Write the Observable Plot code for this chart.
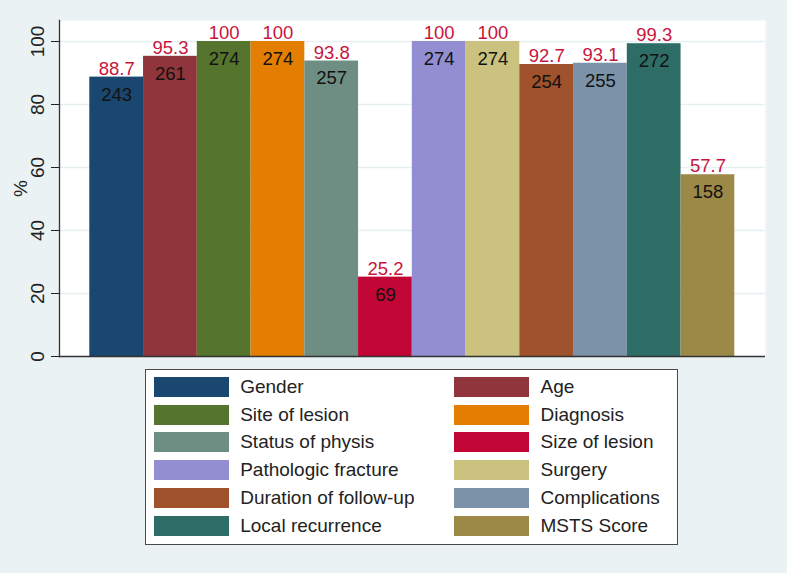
<!DOCTYPE html>
<html><head><meta charset="utf-8">
<script src="https://cdn.jsdelivr.net/npm/d3@7"></script>
<script src="https://cdn.jsdelivr.net/npm/@observablehq/plot@0.6"></script>
<style>
body{margin:0;background:#eaf2f3;}
#wrap{position:relative;width:787px;height:573px;background:#eaf2f3;font-family:"Liberation Sans",Arial,sans-serif;overflow:hidden}
#chart svg{display:block}
#legend{position:absolute;left:145px;top:369px;width:533px;height:176px;box-sizing:border-box;border:1.5px solid #4a4a4a;background:#fff}
.item{position:absolute;display:flex;align-items:center;height:20px;font-size:19px;color:#222;white-space:nowrap}
.sw{width:75px;height:20px;margin-right:11.7px;box-sizing:border-box;flex:none}
</style></head><body><div id="wrap"><div id="chart"></div><div id="legend"></div></div>
<script>
const categories = ["Gender","Age","Site of lesion","Diagnosis","Status of physis","Size of lesion","Pathologic fracture","Surgery","Duration of follow-up","Complications","Local recurrence","MSTS Score"];
const percents = [88.7,95.3,100,100,93.8,25.2,100,100,92.7,93.1,99.3,57.7];
const counts = [243,261,274,274,257,69,274,274,254,255,272,158];
const colors = ["#1a476f","#90353b","#55752f","#e37e00","#6e8e84","#c10534","#938dd2","#cac27e","#a0522d","#7b92a8","#2d6d66","#9c8847"];
const yTicks = [0,20,40,60,80,100];
const yLabel = "%";

const data = categories.map((c,i)=>({category:c, pct:percents[i], n:counts[i]}));

const chart = Plot.plot({
  width:787, height:362, marginLeft:59, marginRight:22, marginTop:20, marginBottom:6,
  style:{background:"transparent", fontFamily:"Liberation Sans, Arial, sans-serif"},
  x:{domain:categories, range:[89.3,734.3], padding:0, round:false, axis:null},
  y:{domain:[0,106.67]},
  color:{domain:categories, range:colors},
  marks:[
    Plot.frame({fill:"white", stroke:"none"}),
    Plot.ruleY(yTicks.filter(d=>d>0), {stroke:"#e6eff1", strokeWidth:1.5}),
    Plot.barY(data, {x:"category", y:"pct", fill:"category"}),
    Plot.ruleY([0], {stroke:"#333", strokeWidth:1.3}),
    Plot.frame({anchor:"left", stroke:"#333", strokeWidth:1.3}),
    Plot.axisY({ticks:yTicks, tickSize:8, tickRotate:-90, tickPadding:7.5, fontSize:19, label:yLabel, labelAnchor:"center", labelOffset:46, labelArrow:"none", color:"#222"}),
    Plot.text(data, {x:"category", y:"pct", text:d=>String(d.pct), lineAnchor:"bottom", dy:-2.5, fill:"#c8143c", fontSize:18.5}),
    Plot.text(data, {x:"category", y:"pct", text:d=>String(d.n), lineAnchor:"middle", dy:17.5, fill:"#111", fontSize:18.5})
  ]
});
document.getElementById("chart").appendChild(chart);

const legend = document.getElementById("legend");
categories.forEach((c,i)=>{
  const col = i%2, row = Math.floor(i/2);
  const it = document.createElement("div");
  it.className = "item";
  it.style.left = (col ? 307.8 : 7.5) + "px";
  it.style.top = (6.8 + row*27.8) + "px";
  const sw = document.createElement("div");
  sw.className = "sw";
  sw.style.background = colors[i];
  const tx = document.createElement("span");
  tx.textContent = c;
  it.appendChild(sw); it.appendChild(tx);
  legend.appendChild(it);
});
</script></body></html>
